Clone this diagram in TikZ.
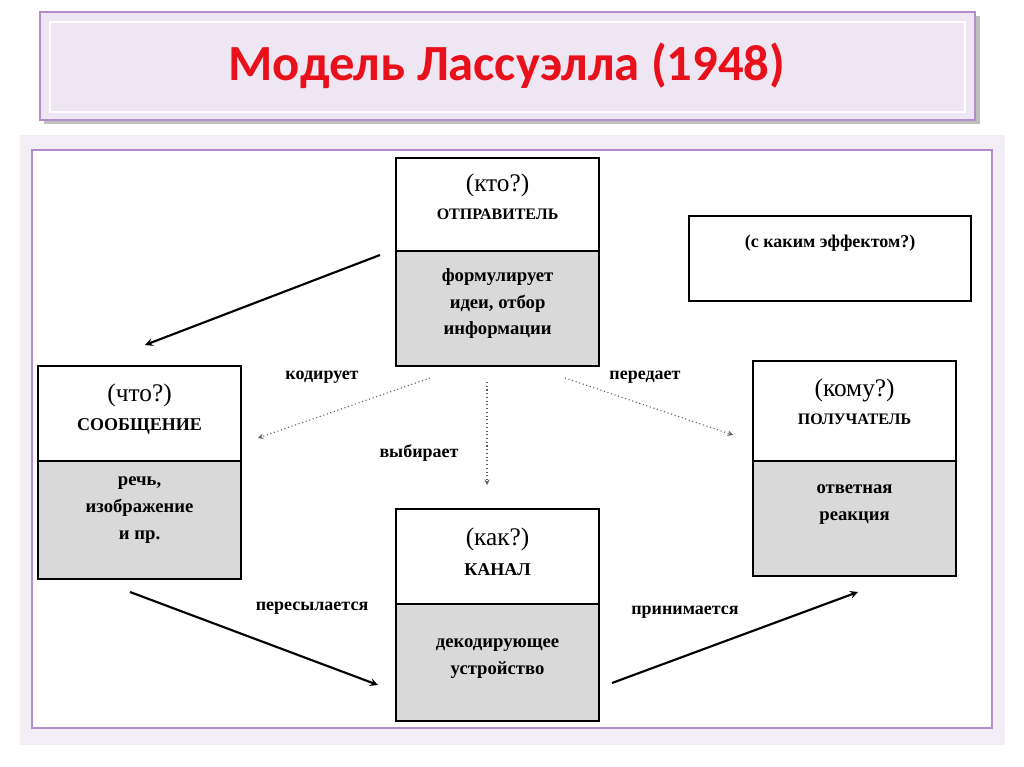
\documentclass[tikz,border=0pt]{standalone}
\usepackage{fontspec}
\setmainfont{Liberation Serif}
\newfontfamily\titlefont{Carlito}
\usetikzlibrary{calc}
\definecolor{graybox}{HTML}{D9D9D9}
\definecolor{titlered}{HTML}{E8101A}
\definecolor{lav}{HTML}{EEE6F2}
\definecolor{purpleb}{HTML}{B48CC8}
\tikzset{
 top/.style={draw=black,line width=1.6pt,fill=white,anchor=north west,inner sep=0},
 bot/.style={draw=black,line width=1.6pt,fill=graybox,anchor=north west,inner sep=0},
 head/.style={font=\fontsize{19}{21}\selectfont,align=center},
 sub/.style={font=\bfseries\fontsize{12}{14}\selectfont},
 gtxt/.style={font=\bfseries\fontsize{14}{20}\selectfont,align=center},
 lbl/.style={font=\bfseries\fontsize{13.5}{15}\selectfont},
 solidarr/.style={line width=1.6pt,-stealth},
 dotarr/.style={line width=0.8pt,dotted,-stealth,gray!70!black}
}
\begin{document}
\begin{tikzpicture}[x=0.75pt,y=-0.75pt]
\useasboundingbox (0,0) rectangle (1024,767);
\fill[white] (0,0) rectangle (1024,767);
% title
\fill[gray!50] (44,16) rectangle (980,124);
\draw[fill=lav,draw=purpleb,line width=2pt] (40,12) rectangle (975,120);
\draw[draw=white,line width=1.5pt] (50,22) rectangle (965,112);
\node (title) at (507,66) {\titlefont\bfseries\color{titlered}\fontsize{38}{44}\selectfont Модель Лассуэлла (1948)};
% panel
\fill[lav!70] (20,135) rectangle (1005,745);
\draw[fill=white,draw=purpleb,line width=1.2pt] (32,150) rectangle (992,728);
% sender
\node[top,minimum width=152.25pt,minimum height=69.75pt] (s1) at (395,157) {};
\node[bot,minimum width=152.25pt,minimum height=86.25pt] (s2) at (395,250) {};
\node[head] at ($(s1.center)+(0,-19)$) {(кто?)};
\node[sub] at ($(s1.center)+(0,10)$) {ОТПРАВИТЕЛЬ};
\node[gtxt] at ($(s2.center)+(0,-5)$) {формулирует\\идеи, отбор\\информации};
% message
\node[top,minimum width=152.25pt,minimum height=71.25pt] (m1) at (37,365) {};
\node[bot,minimum width=152.25pt,minimum height=88.5pt] (m2) at (37,460) {};
\node[head] at ($(m1.center)+(0,-18)$) {(что?)};
\node[sub,font=\bfseries\fontsize{13.5}{15}\selectfont] at ($(m1.center)+(0,13)$) {СООБЩЕНИЕ};
\node[gtxt] at ($(m2.center)+(0,-10)$) {речь,\\изображение\\и пр.};
% channel
\node[top,minimum width=152.25pt,minimum height=71.25pt] (c1) at (395,508) {};
\node[bot,minimum width=152.25pt,minimum height=87.75pt] (c2) at (395,603) {};
\node[head] at ($(c1.center)+(0,-17)$) {(как?)};
\node[sub,font=\bfseries\fontsize{13.5}{15}\selectfont] at ($(c1.center)+(0,13)$) {КАНАЛ};
\node[gtxt] at ($(c2.center)+(0,-4)$) {декодирующее\\устройство};
% receiver
\node[top,minimum width=152.25pt,minimum height=75pt] (r1) at (752,360) {};
\node[bot,minimum width=152.25pt,minimum height=86.25pt] (r2) at (752,460) {};
\node[head] at ($(r1.center)+(0,-21)$) {(кому?)};
\node[sub] at ($(r1.center)+(0,8)$) {ПОЛУЧАТЕЛЬ};
\node[gtxt] at ($(r2.center)+(0,-14)$) {ответная\\реакция};
% effect
\node[draw,line width=1.6pt,anchor=north west,minimum width=211.5pt,minimum height=63.75pt,inner sep=0] (e) at (688,215) {};
\node[font=\bfseries\fontsize{13.5}{15}\selectfont] at ($(e.center)+(0,-15)$) {(с каким эффектом?)};
% connectors
\coordinate (a1) at (380,255); \coordinate (b1) at (145,345);
\draw[solidarr] (a1) -- (b1);
\coordinate (d1) at (430,378); \coordinate (d1e) at (258,438);
\draw[dotarr] (d1) -- (d1e);
\coordinate (d2) at (487,382); \coordinate (d2e) at (487,485);
\draw[dotarr] (d2) -- (d2e);
\coordinate (d3) at (565,378); \coordinate (d3e) at (733,435);
\draw[dotarr] (d3) -- (d3e);
\coordinate (p1) at (130,592); \coordinate (p1e) at (378,685);
\draw[solidarr] (p1) -- (p1e);
\coordinate (p2) at (612,683); \coordinate (p2e) at (858,592);
\draw[solidarr] (p2) -- (p2e);
\node[lbl] at (322,377) {кодирует};
\node[lbl] at (419,453) {выбирает};
\node[lbl] at (645,377) {передает};
\node[lbl] at (312,608) {пересылается};
\node[lbl] at (685,612) {принимается};
\end{tikzpicture}
\end{document}
